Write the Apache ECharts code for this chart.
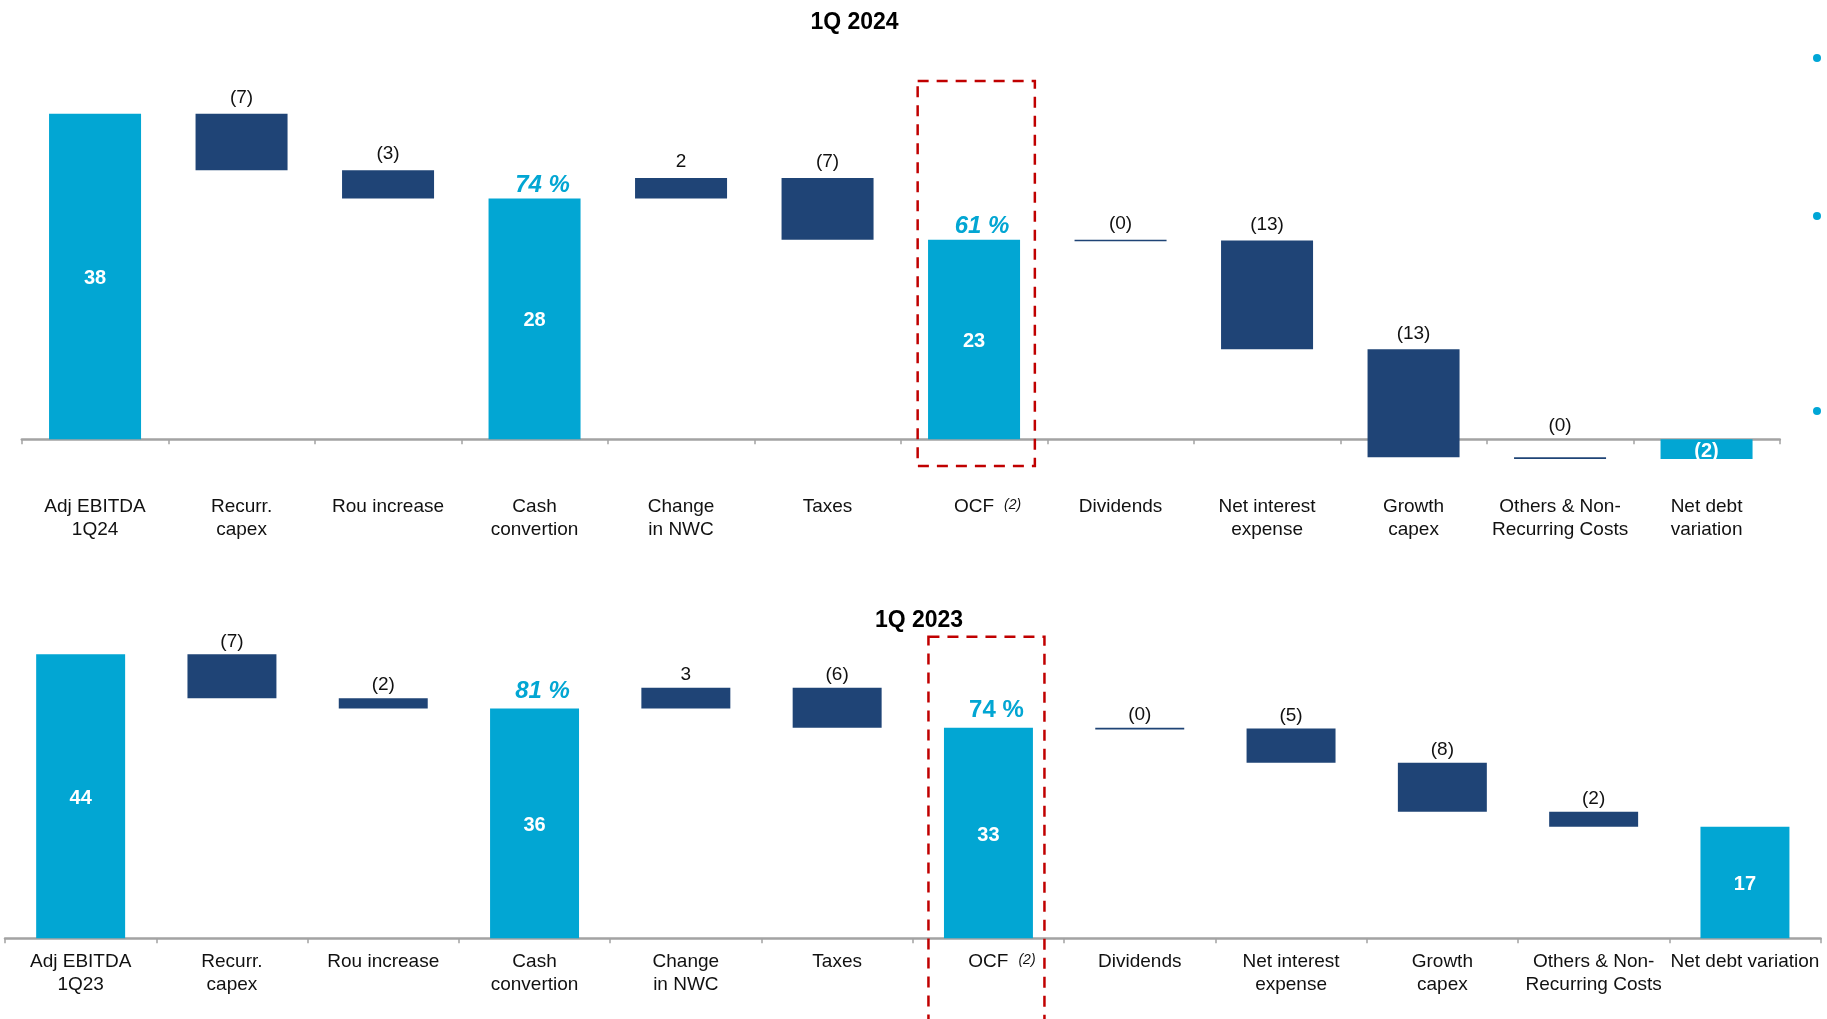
<!DOCTYPE html>
<html>
<head>
<meta charset="utf-8">
<script src="https://cdn.jsdelivr.net/npm/echarts@6/dist/echarts.min.js"></script>
<style>
  html, body { margin: 0; padding: 0; background: #ffffff; }
  #chart { width: 1827px; height: 1019px; }
</style>
</head>
<body>
<div id="chart"></div>
<script>
// ---- Cash flow bridge data (EUR m) ----
const categories2024 = ['Adj EBITDA\n1Q24', 'Recurr.\ncapex', 'Rou increase', 'Cash\nconvertion', 'Change\nin NWC', 'Taxes', 'OCF', 'Dividends', 'Net interest\nexpense', 'Growth\ncapex', 'Others & Non-\nRecurring Costs', 'Net debt\nvariation'];
const categories2023 = ['Adj EBITDA\n1Q23', 'Recurr.\ncapex', 'Rou increase', 'Cash\nconvertion', 'Change\nin NWC', 'Taxes', 'OCF', 'Dividends', 'Net interest\nexpense', 'Growth\ncapex', 'Others & Non-\nRecurring Costs', 'Net debt variation'];
// 'total' bars start from zero, 'step' bars float from the running total
const barKinds = ['total', 'step', 'step', 'total', 'step', 'step', 'total', 'step', 'step', 'step', 'step', 'total'];
const values2024 = [38.0, -6.6, -3.3, 28.1, 2.4, -7.2, 23.3, -0.1, -12.7, -12.6, -0.2, -2.3];
const values2023 = [44.0, -6.8, -1.6, 35.6, 3.2, -6.2, 32.6, -0.1, -5.3, -7.6, -2.3, 17.3];
// totals shown as a conversion rate of Adj EBITDA
const conversionIndexes = [3, 6];
const panelTitles = ['1Q 2024', '1Q 2023'];

const LIGHT_BLUE = '#02a6d3';
const NAVY = '#1f4476';
const TEXT = '#111111';
const FONT = '"Liberation Sans", Arial, Helvetica, sans-serif';

function buildBridge(values) {
  let running = 0;
  return values.map((v, i) => {
    let low, high;
    if (barKinds[i] === 'total') {
      low = Math.min(0, v); high = Math.max(0, v); running = v;
    } else {
      const end = running + v;
      low = Math.min(running, end); high = Math.max(running, end); running = end;
    }
    return { i, v, low, high, kind: barKinds[i], end: running };
  });
}

function fmt(v) {
  const r = Math.round(Math.abs(v));
  return v < 0 ? '(' + r + ')' : String(r);
}

function bridgeSeries(axisIdx, bridge, cfg) {
  const base = bridge[0].v;
  return {
    type: 'custom',
    xAxisIndex: axisIdx,
    yAxisIndex: axisIdx,
    clip: false,
    data: bridge.map(b => [b.i, b.low, b.high]),
    renderItem: function (params, api) {
      const b = bridge[params.dataIndex];
      const idx = api.value(0);
      const w = api.size([1, 0])[0] * cfg.barRatio;
      const pTop = api.coord([idx, api.value(2)]);
      const pBot = api.coord([idx, api.value(1)]);
      const y0 = api.coord([idx, 0])[1];
      const x = pTop[0] - w / 2;
      let y = pTop[1];
      let h = pBot[1] - pTop[1];
      if (h < cfg.minHeight) h = cfg.minHeight;
      const children = [{
        type: 'rect',
        shape: { x: x, y: y, width: w, height: h },
        style: { fill: b.kind === 'total' ? LIGHT_BLUE : NAVY }
      }];
      if (b.kind === 'total') {
        children.push({
          type: 'text', x: pTop[0], y: y + h / 2 + 2,
          style: { text: fmt(b.v), fill: '#ffffff', fontSize: 20, fontWeight: 'bold', fontFamily: FONT, align: 'center', verticalAlign: 'middle' }
        });
        const pos = conversionIndexes.indexOf(b.i);
        if (pos >= 0) {
          children.push({
            type: 'text', x: pTop[0] + 8, y: y - cfg.pctOffset,
            style: {
              text: Math.round(b.v / base * 100) + ' %', fill: LIGHT_BLUE, fontSize: 24, fontWeight: 'bold',
              fontStyle: cfg.pctItalic[pos] ? 'italic' : 'normal', fontFamily: FONT, align: 'center', verticalAlign: 'middle'
            }
          });
        }
      } else {
        let ly = y - cfg.labelOffset;
        // keep the value label clear of the category axis line
        if (ly + 11 > y0 - 2 && ly - 11 < y0 + 2) ly = y0 - 14;
        children.push({
          type: 'text', x: pTop[0], y: ly,
          style: { text: fmt(b.v), fill: TEXT, fontSize: 19, fontFamily: FONT, align: 'center', verticalAlign: 'middle' }
        });
      }
      return { type: 'group', children: children };
    }
  };
}

function categoryAxis(gridIndex, categories, margin) {
  return {
    type: 'category',
    gridIndex: gridIndex,
    data: categories,
    axisLine: { onZero: true, lineStyle: { color: '#a3a3a3', width: 2.5 } },
    axisTick: { show: true, length: 5, lineStyle: { color: '#a3a3a3', width: 1.5 } },
    axisLabel: {
      interval: 0, margin: margin, color: TEXT, fontSize: 19, lineHeight: 23, fontFamily: FONT,
      formatter: v => v === 'OCF' ? '{sp|}OCF{n|(2)}' : v,
      rich: {
        sp: { width: 27, lineHeight: 23 },
        n: { fontSize: 14, fontStyle: 'italic', padding: [0, 0, 4, 10], color: TEXT, fontFamily: FONT, lineHeight: 23 }
      }
    },
    splitLine: { show: false }
  };
}

const bridge2024 = buildBridge(values2024);
const bridge2023 = buildBridge(values2023);

const chart = echarts.init(document.getElementById('chart'), null, { renderer: 'canvas' });

chart.setOption({
  animation: false,
  backgroundColor: '#ffffff',
  grid: [
    { left: 21.8, right: 47.2, top: 96.5, height: 385.7 },
    { left: 5, right: 6.4, top: 615.55, height: 322.75 }
  ],
  xAxis: [
    categoryAxis(0, categories2024, 13),
    categoryAxis(1, categories2023, 12)
  ],
  yAxis: [
    { type: 'value', gridIndex: 0, min: -5, max: 40, show: false },
    { type: 'value', gridIndex: 1, min: 0, max: 50, show: false }
  ],
  series: [
    bridgeSeries(0, bridge2024, { barRatio: 0.628, minHeight: 1.6, labelOffset: 16, pctOffset: 13.5, pctItalic: [true, true] }),
    bridgeSeries(1, bridge2023, { barRatio: 0.588, minHeight: 1.6, labelOffset: 13, pctOffset: 17.5, pctItalic: [true, false] })
  ]
});

// Highlight frame around the OCF column of each panel, plus titles and side bullets
const ocfX0 = chart.convertToPixel({ xAxisIndex: 0 }, 'OCF');
const ocfX1 = chart.convertToPixel({ xAxisIndex: 1 }, 'OCF');
const frameTop0 = chart.convertToPixel({ yAxisIndex: 0 }, 41.8);
const frameBot0 = chart.convertToPixel({ yAxisIndex: 0 }, -3.1);
const frameTop1 = chart.convertToPixel({ yAxisIndex: 1 }, 46.7);
const frameBot1 = chart.convertToPixel({ yAxisIndex: 1 }, -14);

const frameStyle = { fill: null, stroke: '#c00000', lineWidth: 2.5, lineDash: [11, 8] };
const titleStyle = { fill: '#000000', fontSize: 23, fontWeight: 'bold', fontFamily: FONT, align: 'center', verticalAlign: 'middle' };

chart.setOption({
  graphic: [
    { type: 'text', x: 854.5, y: 23, style: Object.assign({ text: panelTitles[0] }, titleStyle) },
    { type: 'text', x: 919, y: 620.5, style: Object.assign({ text: panelTitles[1] }, titleStyle) },
    { type: 'rect', z: 100, shape: { x: ocfX0 - 56.4, y: frameTop0, width: 117.2, height: frameBot0 - frameTop0 }, style: frameStyle },
    { type: 'rect', z: 100, shape: { x: ocfX1 - 60, y: frameTop1, width: 116, height: frameBot1 - frameTop1 }, style: frameStyle },
    { type: 'circle', shape: { cx: 1817, cy: 58, r: 4 }, style: { fill: '#00a6d6' } },
    { type: 'circle', shape: { cx: 1817, cy: 216, r: 4 }, style: { fill: '#00a6d6' } },
    { type: 'circle', shape: { cx: 1817, cy: 411, r: 4 }, style: { fill: '#00a6d6' } }
  ]
});
</script>
</body>
</html>
